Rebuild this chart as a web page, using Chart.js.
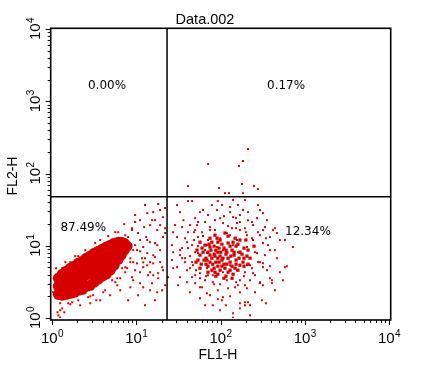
<!DOCTYPE html>
<html>
<head>
<meta charset="utf-8">
<script src="https://cdn.jsdelivr.net/npm/chart.js@4.4.1/dist/chart.umd.min.js"></script>
<style>
  html, body { margin: 0; padding: 0; background: #fff; }
</style>
</head>
<body>
<canvas id="myChart" width="441" height="385"></canvas>
<script>
// FL1-H / FL2-H events (log scale, both axes 10^0..10^4)

// dense population, lower left quadrant (drawn as big overlapping dots)
const blobPoints = [
  [1.19, 3.55], [1.19, 2.75], [1.19, 2.13],
  [1.325, 4.04], [1.325, 3.13], [1.325, 2.42], [1.325, 2.07],
  [1.48, 4.45], [1.48, 3.44], [1.48, 2.66], [1.48, 2.13],
  [1.65, 4.89], [1.65, 3.79], [1.65, 2.84], [1.65, 2.2],
  [1.84, 5.21], [1.84, 4.04], [1.84, 3.03], [1.84, 2.27],
  [2.05, 5.74], [2.05, 4.45], [2.05, 3.33], [2.05, 2.42],
  [2.29, 6.12], [2.29, 4.74], [2.29, 3.55], [2.29, 2.5],
  [2.55, 6.73], [2.55, 5.21], [2.55, 3.91], [2.55, 2.75],
  [2.84, 7.19], [2.84, 5.56], [2.84, 4.17], [2.84, 2.84],
  [3.17, 7.9], [3.17, 6.12], [3.17, 4.59], [3.17, 3.13],
  [3.54, 8.42], [3.54, 6.5], [3.54, 4.89], [3.54, 3.44],
  [3.95, 8.97], [3.95, 6.95], [3.95, 5.21], [3.95, 3.79],
  [4.40, 9.6], [4.40, 7.42], [4.40, 5.56], [4.40, 4.04],
  [4.91, 10.2], [4.91, 7.9], [4.91, 5.93], [4.91, 4.59],
  [5.47, 10.87], [5.47, 8.42], [5.47, 6.5], [5.47, 5.38],
  [6.11, 11.2], [6.11, 8.7], [6.11, 6.5],
  [6.62, 11.2], [6.62, 8.97], [6.62, 7.42],
  [7.2, 10.87], [7.2, 8.7],
  [7.8, 9.87]
];

// denser centre of the FL1 positive population
const corePoints = [
  [65.5, 10.2], [79, 11.2], [99, 12.0], [123, 10.9], [153, 9.87], [170, 8.14],
  [137, 8.7], [110, 9.28], [88, 8.7], [71, 8.14], [57.1, 7.42], [63.7, 6.33],
  [79, 6.73], [99, 7.19], [123, 6.73], [153, 6.33], [190, 6.73], [170, 5.38],
  [137, 5.21], [110, 5.56], [88, 5.93], [71, 5.21], [57.1, 4.89], [79, 4.59],
  [99, 4.59], [123, 4.30], [88, 3.79], [110, 3.55], [51.2, 5.93], [212, 8.7],
  [200, 12.0], [86, 14.0], [113, 15.0], [149, 12.7], [75, 9.6], [93, 8.14],
  [116, 7.65], [145, 7.42], [104, 6.33], [84, 7.65], [67.3, 6.73], [130, 5.93],
  [161, 4.59], [93, 5.21], [75, 5.93],
  [60.4, 9.28], [84, 9.87], [104, 10.5], [130, 9.87], [161, 10.5], [190, 9.28],
  [75, 7.42], [93, 6.73], [116, 8.7], [145, 8.14], [180, 7.65], [67.3, 5.56],
  [84, 4.89], [104, 5.21], [130, 4.59], [153, 5.56], [190, 5.21], [116, 3.79],
  [71, 4.30], [93, 4.04], [137, 3.55], [54.1, 6.33], [224, 6.73], [212, 5.56],
  [170, 12.0], [123, 13.6], [75, 12.7], [57.1, 11.2], [93, 11.2], [250, 9.87],
  [77, 8.7], [96, 9.28], [119, 8.14], [86, 7.19], [107, 6.73], [133, 7.19],
  [69, 6.33], [96, 5.93], [119, 5.56], [149, 4.89], [81, 5.56], [62, 8.14],
  [166, 6.73], [101, 8.14], [113, 4.89], [73, 10.5], [141, 11.2], [91, 12.7],
  [185, 5.93], [59, 5.56], [86, 4.30], [141, 4.04], [52.7, 8.7], [206, 7.19]
];

// single events
const leftDots = [
  [18.2, 37.8], [15.9, 29.2], [13.5, 28.3], [11.1, 22.6], [9.7, 21.3], [12.4, 18.1],
  [14.6, 19.3], [20.8, 24.9], [8.9, 16.5], [7.4, 14.0], [10.5, 15.0], [17.7, 16.5],
  [13.5, 12.0], [16.7, 10.9], [20.8, 13.2], [19.2, 8.7], [12.1, 9.6], [10.2, 8.7],
  [15.9, 7.4], [7.2, 19.9], [8.9, 17.5], [13.1, 13.2], [14.6, 11.2], [17.7, 10.2],
  [11.1, 8.4], [13.5, 7.9], [16.7, 6.95], [10.2, 5.7], [12.1, 5.05], [14.6, 4.3],
  [18.2, 4.17], [8.9, 3.67], [11.1, 3.03], [8.5, 2.66], [6.45, 2.42], [4.9, 2.07],
  [3.74, 1.76], [2.85, 1.6], [1.25, 1.28], [1.19, 1.09], [1.02, 2.27], [13.5, 5.37],
  [11.1, 4.3], [15.9, 3.91], [20.8, 4.59], [7.8, 4.89], [5.95, 3.55], [9.2, 3.33],
  [12.1, 2.66], [15.4, 3.03], [17.7, 2.27], [4.06, 2.27], [3.08, 2.07], [2.16, 1.5],
  [1.56, 1.6], [1.32, 1.36], [22, 15.0], [8.5, 6.7], [20.3, 5.05], [7.4, 5.05],
  [6.45, 3.55], [18.2, 3.55], [5.95, 2.84], [13.8, 3.91], [12.1, 5.9], [15.9, 5.7],
  [1.16, 1.2], [1.79, 1.94], [2.48, 2.2], [1.25, 1.02], [2.05, 1.76],
  [1.65, 5.93], [2.48, 8.7], [3.26, 10.9], [4.65, 13.6], [6.11, 15.4], [1.32, 4.89],
  [2.05, 7.19], [2.85, 2.0], [4.28, 2.42], [5.63, 3.13], [7.4, 4.3], [8.5, 5.93],
  [3.35, 1.76], [1.65, 1.55], [1.40, 1.2], [11.1, 12.0], [9.7, 10.2], [12.7, 6.73],
  [19.2, 5.93], [14.6, 2.42], [22, 2.84], [10.5, 2.07], [16.7, 1.76], [8.0, 1.76],
  [12.7, 1.5], [19.2, 19.3], [15.4, 22.6], [22, 33.3], [9.2, 5.93],
  [9.7, 26.6], [19.2, 31.2], [12.7, 36.6], [16.7, 22.6], [22, 17.5], [11.7, 6.73],
  [20.3, 2.42], [14.6, 5.93], [9.7, 4.59],
  [1.12, 4.89], [1.25, 1.6], [1.74, 1.65], [2.69, 1.94], [5.18, 3.33], [6.8, 4.89],
  [9.2, 8.7], [8.0, 13.2], [5.63, 15.4], [3.74, 12.0], [1.89, 7.19], [1.44, 5.93]
];

const rightDots = [
  [41.2, 41.5], [46, 41.5], [30.5, 36.6], [93, 41.5], [141, 42.9], [195, 42.9],
  [62, 31.2], [91, 31.2], [130, 34.3], [161, 36.6], [185, 31.2], [130, 29.2],
  [294, 31.2], [319, 28.3], [50, 24.1], [71, 26.6], [99, 24.1], [141, 24.9],
  [170, 26.6], [212, 22.6], [271, 24.1], [356, 22.6], [35, 18.1], [52.7, 19.3],
  [75, 18.1], [107, 20.6], [157, 20.6], [243, 19.3], [337, 18.1], [60.4, 15.4],
  [86, 16.5], [119, 15.0], [170, 16.5], [206, 14.0], [278, 15.4], [467, 15.0],
  [30.5, 13.2], [40.1, 11.2], [54.1, 13.2], [71, 12.0], [99, 12.7], [130, 14.0],
  [157, 12.0], [243, 12.0], [319, 10.9], [69, 10.2], [91, 9.6], [141, 10.2],
  [206, 9.6], [723, 9.6], [35, 9.28], [50, 8.14], [69, 7.9], [107, 8.7],
  [161, 8.14], [271, 7.9], [386, 8.7], [507, 12.0], [419, 16.5], [35, 6.73],
  [47.2, 5.38], [40.1, 4.59], [57.1, 4.17], [69, 4.89], [81, 3.91], [107, 4.3],
  [130, 5.38], [157, 4.59], [206, 5.38], [243, 4.17], [319, 5.74], [356, 4.59],
  [613, 5.21], [33.1, 3.67], [46, 3.67], [27.4, 4.89], [57.1, 2.66], [81, 3.13],
  [119, 3.33], [170, 3.33], [195, 2.84], [294, 3.13], [408, 3.03], [93, 2.42],
  [104, 1.76], [81, 1.5], [170, 1.6], [212, 1.65], [170, 1.36], [346, 1.6],
  [141, 1.01], [40.1, 3.13], [69, 2.2], [48.5, 15.4], [33.1, 8.7], [27.4, 8.14],
  [41.2, 9.28], [38, 6.73], [30.5, 5.05], [46, 5.93], [54.1, 7.9], [65.5, 8.7],
  [57.1, 3.55], [71, 3.91], [50, 3.03], [60.4, 2.66], [107, 1.94], [116, 1.5],
  [93, 1.82], [23.9, 3.67], [319, 16.5], [386, 13.2], [467, 6.73], [582, 5.05],
  [294, 5.93], [319, 5.05], [224, 5.38], [195, 4.3], [294, 3.03], [319, 2.84],
  [170, 2.27], [206, 2.58], [149, 2.66], [195, 1.65], [195, 1.5], [224, 1.5],
  [141, 1.16], [386, 3.55], [408, 3.33],
  [43.5, 19.3], [65.5, 21.3], [86, 22.6], [123, 18.7], [153, 24.1], [195, 17.5],
  [236, 21.3], [294, 14.0], [366, 10.2], [443, 8.7], [337, 7.42], [278, 5.93],
  [386, 5.21], [507, 4.30], [257, 3.91], [224, 3.33], [161, 2.84], [123, 2.58],
  [84, 2.93], [65.5, 3.33], [50, 3.91], [43.5, 4.89], [38, 5.93], [33.1, 7.42],
  [46, 10.2], [38, 12.7], [50, 16.5], [36.3, 22.6], [28.9, 19.3], [26.5, 10.2],
  [26.5, 6.33], [31.4, 2.84], [43.5, 2.27], [57.1, 1.88], [75, 2.07], [130, 2.0],
  [257, 2.27], [310, 1.76], [99, 1.28], [65.5, 1.5], [224, 1.09], [443, 2.42],
  [551, 3.33], [582, 12.0], [443, 17.5], [278, 36.6], [104, 36.6], [57.1, 29.2],
  [79, 36.6], [33.1, 29.2], [27.4, 15.4], [212, 29.2], [170, 21.3], [54.1, 21.3],
  [41.2, 15.4], [153, 17.5], [110, 25.7], [346, 12.7],
  [54.1, 9.87], [62, 13.6], [200, 15.4], [236, 12.7], [257, 8.14], [236, 4.89],
  [190, 3.79], [153, 3.13], [99, 2.93], [67.3, 3.79], [51.2, 4.59], [43.5, 7.19],
  [48.5, 12.0], [75, 16.5], [137, 17.5],
  // above the FL2 gate
  [212, 219], [71.3, 135], [185, 149], [166, 127], [41.2, 67], [96, 63],
  [180, 71.5], [250, 67], [278, 61], [113, 53.5], [126, 53.5], [185, 53.5]
];

// gates and quadrant stats
const gateX = 23.2;
const gateY = 47.7;
const quadText = ['0.00%', '0.17%', '87.49%', '12.34%'];
const quadAt = [[4.5, 1640], [600, 1640], [2.35, 17.5], [1090, 15.4]];

const decadeTicks = [1, 10, 100, 1000, 10000];
const decadeExp = ['0', '1', '2', '3', '4'];

const red = 'rgb(214,0,0)';
const toXY = arr => arr.map(p => ({ x: p[0], y: p[1] }));

function powLabel(ctx, cx, base, exp) {
  ctx.font = '15px "Liberation Sans"';
  const w1 = ctx.measureText('10').width;
  ctx.font = '10px "Liberation Sans"';
  const w2 = ctx.measureText(exp).width;
  const s = cx - (w1 + w2) / 2;
  ctx.textAlign = 'left';
  ctx.textBaseline = 'alphabetic';
  ctx.font = '15px "Liberation Sans"';
  ctx.fillText('10', s, base);
  ctx.font = '10px "Liberation Sans"';
  ctx.fillText(exp, s + w1 + 0.5, base - 6);
}

const frame = {
  id: 'frame',
  afterDatasetsDraw(chart) {
    const { ctx, chartArea: a, scales: { x, y } } = chart;
    const L = a.left - 1.3, R = a.right + 1.7, T = a.top - 0.7, B = a.bottom + 2;
    ctx.save();
    ctx.strokeStyle = '#000';
    ctx.fillStyle = '#000';

    // gates
    ctx.lineWidth = 1.5;
    const gx = x.getPixelForValue(gateX);
    const gy = y.getPixelForValue(gateY);
    ctx.beginPath();
    ctx.moveTo(gx, T); ctx.lineTo(gx, B);
    ctx.moveTo(L, gy); ctx.lineTo(R, gy);
    ctx.stroke();

    // box
    ctx.lineWidth = 1.6;
    ctx.strokeRect(L, T, R - L, B - T);

    // tick marks
    ctx.lineWidth = 1;
    ctx.beginPath();
    for (let k = 0; k < 4; k++) {
      for (let m = 1; m <= 9; m++) {
        const v = m * decadeTicks[k];
        const len = m === 1 ? 5 : 3;
        const px = Math.round(x.getPixelForValue(v)) + 0.5;
        ctx.moveTo(px, B); ctx.lineTo(px, B + len);
        const py = Math.round(y.getPixelForValue(v)) + 0.5;
        ctx.moveTo(L, py); ctx.lineTo(L - len, py);
      }
    }
    const ex = Math.round(x.getPixelForValue(10000)) + 0.5;
    ctx.moveTo(ex, B); ctx.lineTo(ex, B + 5);
    const ey = Math.round(y.getPixelForValue(10000)) + 0.5;
    ctx.moveTo(L, ey); ctx.lineTo(L - 5, ey);
    ctx.stroke();

    // tick labels
    decadeTicks.forEach((v, i) => {
      powLabel(ctx, x.getPixelForValue(v), 343, decadeExp[i]);
      ctx.save();
      ctx.translate(40, y.getPixelForValue(v));
      ctx.rotate(-Math.PI / 2);
      powLabel(ctx, 0, 0, decadeExp[i]);
      ctx.restore();
    });

    // titles
    ctx.textAlign = 'center';
    ctx.textBaseline = 'alphabetic';
    ctx.font = '14.5px "Liberation Sans"';
    ctx.fillText('Data.002', 205, 24);
    ctx.font = '14px "Liberation Sans"';
    ctx.fillText('FL1-H', 218, 359);
    ctx.save();
    ctx.translate(17, 176);
    ctx.rotate(-Math.PI / 2);
    ctx.fillText('FL2-H', 0, 0);
    ctx.restore();

    // quadrant percentages
    ctx.font = '12px "DejaVu Sans"';
    ctx.textBaseline = 'middle';
    quadText.forEach((t, i) => {
      ctx.fillText(t, x.getPixelForValue(quadAt[i][0]), y.getPixelForValue(quadAt[i][1]));
    });
    ctx.restore();
  }
};

new Chart(document.getElementById('myChart'), {
  type: 'scatter',
  data: {
    datasets: [
      { data: toXY(blobPoints), backgroundColor: red, borderWidth: 0, pointRadius: 5.5 },
      { data: toXY(corePoints), backgroundColor: red, borderWidth: 0, pointRadius: 2.3, pointStyle: 'rect' },
      { data: toXY(leftDots), backgroundColor: red, borderWidth: 0, pointRadius: 1.4, pointStyle: 'rect' },
      { data: toXY(rightDots), backgroundColor: red, borderWidth: 0, pointRadius: 1.4, pointStyle: 'rect' }
    ]
  },
  options: {
    responsive: false,
    animation: false,
    layout: { padding: { left: 52, right: 52, top: 29, bottom: 67 } },
    plugins: { legend: { display: false }, tooltip: { enabled: false } },
    scales: {
      x: { type: 'logarithmic', min: 1, max: 10000, display: false },
      y: { type: 'logarithmic', min: 1, max: 10000, display: false }
    }
  },
  plugins: [frame]
});
</script>
</body>
</html>
